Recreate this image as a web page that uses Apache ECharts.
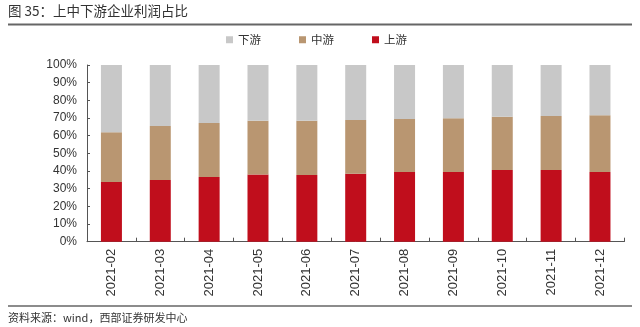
<!DOCTYPE html>
<html>
<head>
<meta charset="utf-8">
<script src="https://cdn.jsdelivr.net/npm/echarts@6/dist/echarts.min.js"></script>
<style>
html,body{margin:0;padding:0;background:#fff;}
#c{width:640px;height:327px;}
</style>
</head>
<body>
<div id="c"></div>
<script>
var categories = ['2021-02','2021-03','2021-04','2021-05','2021-06','2021-07','2021-08','2021-09','2021-10','2021-11','2021-12'];
var upstream   = [33.8, 34.9, 36.6, 38.1, 37.7, 38.5, 39.4, 39.4, 40.6, 40.6, 39.4];
var midstream  = [28.1, 30.6, 30.6, 30.4, 30.8, 30.4, 30.0, 30.4, 30.1, 30.5, 32.1];
var downstream = [38.1, 34.5, 32.8, 31.5, 31.5, 31.1, 30.6, 30.2, 29.3, 28.9, 28.5];
var yTicks = [0,10,20,30,40,50,60,70,80,90,100];

var FONT = '"Liberation Sans", Arial, "Noto Sans CJK SC", sans-serif';
var chart = echarts.init(document.getElementById('c'), null, {renderer:'canvas'});
chart.setOption({
  animation:false,
  backgroundColor:'#fff',
  textStyle:{fontFamily:FONT},
  grid:{left:87, right:15.6, top:65, bottom:85.3, containLabel:false},
  legend:{
    left:226, top:34, padding:0,
    itemWidth:7, itemHeight:7, itemGap:38,
    icon:'rect',
    textStyle:{fontSize:11.5, color:'#333', fontFamily:'"Noto Sans CJK SC", sans-serif'},
    data:['下游','中游','上游']
  },
  graphic:[
    {type:'text', left:8, top:4, style:{text:'图 35：上中下游企业利润占比', fontSize:13.5, fill:'#333', fontFamily:'"Noto Sans CJK SC", sans-serif'}},
    {type:'line', shape:{x1:8,y1:24.5,x2:632,y2:24.5}, style:{stroke:'#666', lineWidth:2}},
    {type:'line', shape:{x1:8,y1:306,x2:632,y2:306}, style:{stroke:'#666', lineWidth:1.5}},
    {type:'text', left:8, top:312, style:{text:'资料来源：wind，西部证券研发中心', fontSize:11, fill:'#333', fontFamily:'"Noto Sans CJK SC", sans-serif'}}
  ],
  xAxis:{
    type:'category',
    data:categories,
    axisLine:{show:true, lineStyle:{color:'#555', width:1}},
    axisTick:{show:true, inside:true, length:4, alignWithLabel:false, lineStyle:{color:'#555'}},
    axisLabel:{rotate:90, margin:7, fontSize:13, color:'#333', fontFamily:FONT}
  },
  yAxis:{
    type:'value', min:0, max:100, interval:10,
    axisLine:{show:true, lineStyle:{color:'#555', width:1}},
    axisTick:{show:true, inside:true, length:3, lineStyle:{color:'#555'}},
    splitLine:{show:false},
    axisLabel:{formatter:function(v){return yTicks.indexOf(v)>=0 ? v+'%' : '';}, fontSize:12, color:'#333', margin:10, fontFamily:FONT}
  },
  series:[
    {name:'上游', type:'bar', stack:'a', data:upstream, barWidth:21, itemStyle:{color:'#C00E1C'}},
    {name:'中游', type:'bar', stack:'a', data:midstream, barWidth:21, itemStyle:{color:'#B99671'}},
    {name:'下游', type:'bar', stack:'a', data:downstream, barWidth:21, itemStyle:{color:'#C8C8C8'}}
  ]
});
</script>
</body>
</html>
